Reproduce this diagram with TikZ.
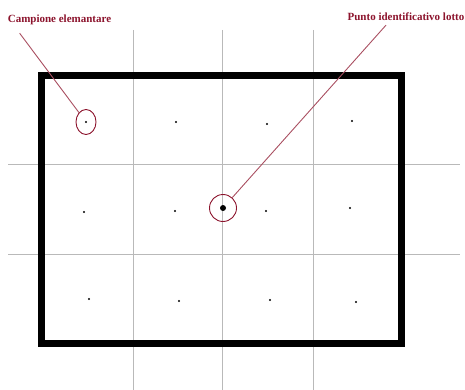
\documentclass[tikz,border=0pt]{standalone}
\usepackage{fontspec}
\setmainfont{Liberation Serif}
\usetikzlibrary{shapes.geometric}

\definecolor{darkred}{RGB}{140,20,45}

\tikzset{
    grid line/.style={gray!55, line width=1pt},
    sample/.style={circle, fill=black, inner sep=0pt, minimum size=2.2pt},
    callout/.style={font=\fontsize{11}{12}\selectfont\bfseries, text=darkred, inner sep=0pt},
    pointer/.style={darkred!75, line width=0.9pt}
}

\begin{document}
\begin{tikzpicture}[x=1pt, y=-1pt]
        \useasboundingbox (0,0) rectangle (465,390);

        % Grid
        \foreach \x in {133,222,313}
            \draw[grid line] (\x,30) -- (\x,390);
        \foreach \y in {164,254}
            \draw[grid line] (8,\y) -- (460,\y);

        % Lot boundary
        \draw[line width=7pt] (41.5,75.5) rectangle (401.5,343.5);

        % Elementary samples
        \foreach \x/\y [count=\n] in {86/122, 176/122, 267/124, 352/121,
                                     84/212, 175/211, 266/211, 350/208,
                                     89/299, 179/301, 270/300, 356/302}
            \node[sample] (s\n) at (\x,\y) {};

        % Lot identification point
        \node[circle, fill=black, inner sep=0pt, minimum size=6pt] (lot) at (223,208) {};

        % Highlights
        \node[ellipse, draw=darkred, line width=0.9pt, minimum width=20pt, minimum height=25pt, inner sep=0pt] (ell) at (s1) {};
        \node[circle, draw=darkred, line width=0.9pt, minimum size=27pt, inner sep=0pt] (ring) at (lot) {};

        % Labels
        \node[callout] (camp) at (59.5,20) {Campione elemantare};
        \node[callout] (punto) at (406,17) {Punto identificativo lotto};

        \draw[pointer] ([shift={(12,8)}]camp.south west) -- (ell);
        \draw[pointer] ([shift={(-20,4)}]punto.south) -- (ring);
    \end{tikzpicture}
\end{document}
